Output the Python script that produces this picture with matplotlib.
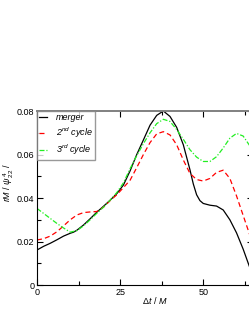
import numpy as np
import matplotlib.pyplot as plt
from matplotlib.ticker import MultipleLocator

plt.rcParams['font.family'] = ['Liberation Sans', 'DejaVu Sans']
plt.rcParams['mathtext.fontset'] = 'custom'
plt.rcParams['mathtext.rm'] = 'Liberation Sans'
plt.rcParams['mathtext.it'] = 'Liberation Sans:italic'

# data
t_merger = [0, 2, 4, 6, 8, 10, 11, 12, 14, 16, 18, 20, 22, 24, 26, 28, 30, 32, 34, 36,
            38, 40, 42, 44, 46, 47, 48, 49, 50, 52, 54, 56, 58, 60, 62, 64]
merger = [0.0161, 0.0178, 0.0192, 0.0208, 0.0225, 0.0238, 0.0243, 0.0252, 0.0276, 0.0305,
          0.0335, 0.0362, 0.0390, 0.0420, 0.0460, 0.0525, 0.0600, 0.0667, 0.0735, 0.0780,
          0.0800, 0.0775, 0.0725, 0.0645, 0.0530, 0.0465, 0.0415, 0.0388, 0.0375, 0.0367,
          0.0363, 0.0345, 0.0300, 0.0240, 0.0165, 0.0080]

t_cycle = [0, 2, 4, 6, 8, 10, 12, 14, 16, 18, 20, 22, 24, 26, 28, 30, 32, 34, 36, 38,
           40, 42, 44, 46, 48, 50, 52, 54, 56, 58, 60, 62, 64]
cycle2 = [0.0207, 0.0213, 0.0225, 0.0245, 0.0272, 0.0300, 0.0322, 0.0333, 0.0336, 0.0338,
          0.0358, 0.0388, 0.0415, 0.0448, 0.0482, 0.0540, 0.0600, 0.0655, 0.0695, 0.0705,
          0.0690, 0.0645, 0.0575, 0.0513, 0.0485, 0.0478, 0.0490, 0.0518, 0.0528, 0.0490,
          0.0410, 0.0320, 0.0230]
cycle3 = [0.0352, 0.0329, 0.0306, 0.0283, 0.0262, 0.0243, 0.0250, 0.0272, 0.0300, 0.0330,
          0.0358, 0.0390, 0.0425, 0.0470, 0.0535, 0.0595, 0.0650, 0.0700, 0.0742, 0.0762,
          0.0752, 0.0715, 0.0670, 0.0622, 0.0588, 0.0568, 0.0568, 0.0590, 0.0630, 0.0675,
          0.0697, 0.0685, 0.0640]

x_ticks = [0, 25, 50]
y_ticks = [0, 0.02, 0.04, 0.06, 0.08]
y_tick_labels = ['0', '0.02', '0.04', '0.06', '0.08']

fig = plt.figure(figsize=(2.49, 3.23), dpi=100)
ax = fig.add_axes([0.1486, 0.1176, 0.868, 0.5387])

ax.plot(t_merger, merger, color='black', lw=0.9, label='merger')
ax.plot(t_cycle, cycle2, color='red', lw=0.9, ls=(0, (4, 2.5)), label='2$^{nd}$ cycle')
ax.plot(t_cycle, cycle3, color='#22ee22', lw=0.9, ls=(0, (4, 1.5, 1, 1.5)), label='3$^{rd}$ cycle')

ax.set_xlim(0, 65)
ax.set_ylim(0, 0.08)
ax.set_xticks(x_ticks)
ax.set_xticklabels([str(v) for v in x_ticks])
ax.set_yticks(y_ticks)
ax.set_yticklabels(y_tick_labels)
ax.xaxis.set_minor_locator(MultipleLocator(12.5))
ax.yaxis.set_minor_locator(MultipleLocator(0.01))
ax.tick_params(which='both', direction='in', top=True, right=True, labelsize=6.5, pad=2)
ax.tick_params(which='major', length=4, width=0.8)
ax.tick_params(which='minor', length=3, width=0.8)
ax.spines['top'].set_color('gray')
ax.spines['top'].set_linewidth(1.4)

ax.set_xlabel(r'$\Delta t\ /\ M$', fontsize=6.5)
ax.xaxis.set_label_coords(0.546, -0.06)
ax.set_ylabel(r'$rM\ /\ \psi^4_{22}\ /$', fontsize=6.5)
ax.yaxis.set_label_coords(-0.095, 0.59)

leg = ax.legend(loc='upper left', borderaxespad=0, frameon=True, fancybox=False,
                handlelength=0.9, labelspacing=0.35, borderpad=0.25, handletextpad=0.9,
                prop={'style': 'italic', 'size': 6.5})
leg.get_frame().set_edgecolor('gray')
leg.get_frame().set_linewidth(1.0)

fig.savefig('out.png', dpi=100)
